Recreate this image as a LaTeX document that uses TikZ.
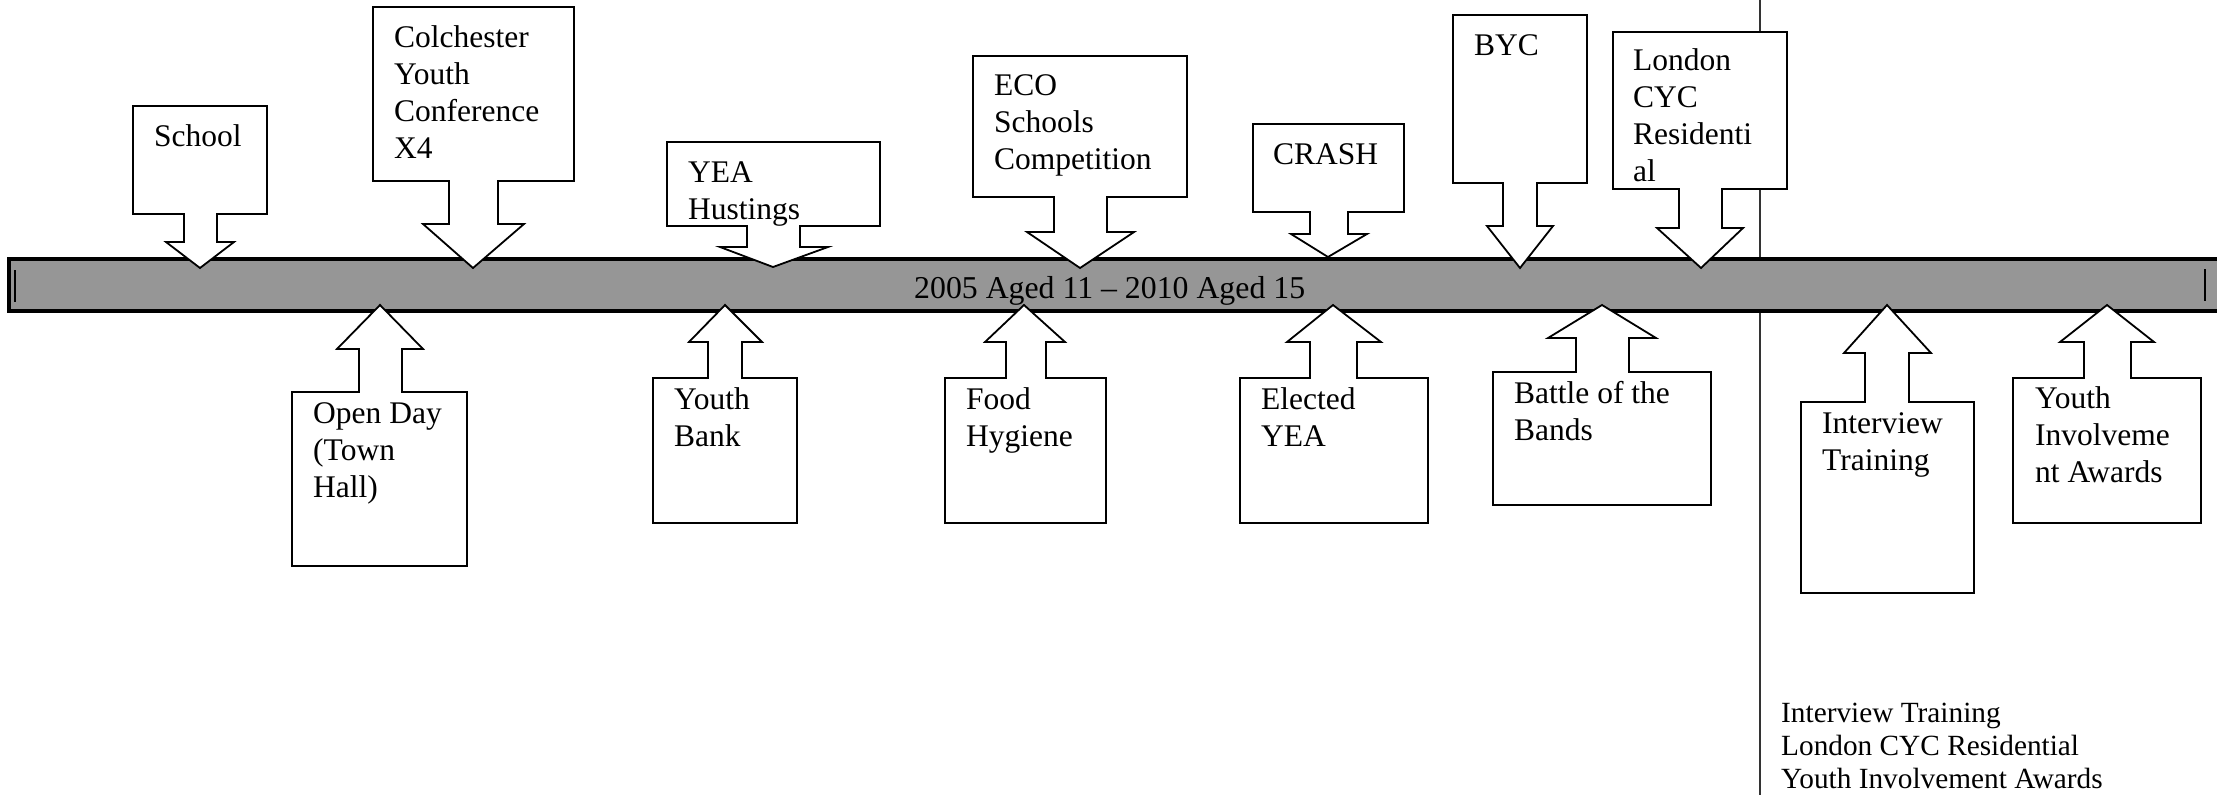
\documentclass[tikz,border=0pt]{standalone}
\usepackage{fontspec}
\setmainfont{Liberation Serif}
\definecolor{barfill}{RGB}{150,150,150}
\tikzset{
  callout/.style={draw=black, fill=white, line width=1.8pt, line join=miter},
  lbl/.style={anchor=north west, inner sep=0pt, align=left, font=\fontsize{31.5}{37}\selectfont},
  notes/.style={anchor=north west, inner sep=0pt, align=left, font=\fontsize{29.3}{33}\selectfont},
  bartext/.style={anchor=base west, inner sep=0pt, font=\fontsize{31.8}{37}\selectfont},
  divider/.style={draw=black!80, line width=1.5pt},
  tick/.style={draw=black, line width=1.5pt}
}
\begin{document}
\begin{tikzpicture}[x=1pt,y=-1pt]
\useasboundingbox (0,0) rectangle (2217,795);
\clip (0,0) rectangle (2217,795);
% divider line
\coordinate (dtop) at (1760,0);
\coordinate (dbot) at (1760,795);
\draw[divider] (dtop) -- (dbot);
% timeline bar
\draw[fill=barfill, line width=4pt] (9,259) rectangle (2240,311);
\coordinate (lt1) at (15,270); \coordinate (lt2) at (15,302);
\coordinate (rt1) at (2205,269); \coordinate (rt2) at (2205,301);
\draw[tick] (lt1) -- (lt2);
\draw[tick] (rt1) -- (rt2);
\node[bartext] (bar) at (914,298) {2005 Aged 11 – 2010 Aged 15};
% down callouts
\draw[callout] (133,106) -- (267,106) -- (267,214) -- (217,214) -- (217,242) -- (234,242) -- (200,268) -- (166,242) -- (184,242) -- (184,214) -- (133,214) -- cycle;
\draw[callout] (373,7) -- (574,7) -- (574,181) -- (498,181) -- (498,224) -- (524,224) -- (473,268) -- (423,224) -- (449,224) -- (449,181) -- (373,181) -- cycle;
\draw[callout] (667,142) -- (880,142) -- (880,226) -- (800,226) -- (800,247) -- (828,247) -- (773,267) -- (720,247) -- (747,247) -- (747,226) -- (667,226) -- cycle;
\draw[callout] (973,56) -- (1187,56) -- (1187,197) -- (1107,197) -- (1107,232) -- (1134,232) -- (1080,268) -- (1027,232) -- (1054,232) -- (1054,197) -- (973,197) -- cycle;
\draw[callout] (1253,124) -- (1404,124) -- (1404,212) -- (1348,212) -- (1348,234) -- (1367,234) -- (1328,257) -- (1291,234) -- (1310,234) -- (1310,212) -- (1253,212) -- cycle;
\draw[callout] (1453,15) -- (1587,15) -- (1587,183) -- (1537,183) -- (1537,226) -- (1553,226) -- (1520,268) -- (1487,226) -- (1503,226) -- (1503,183) -- (1453,183) -- cycle;
\draw[callout] (1613,32) -- (1787,32) -- (1787,189) -- (1722,189) -- (1722,228) -- (1743,228) -- (1701,268) -- (1657,228) -- (1679,228) -- (1679,189) -- (1613,189) -- cycle;
% up callouts
\draw[callout] (292,392) -- (359,392) -- (359,349) -- (337,349) -- (380,305) -- (423,349) -- (402,349) -- (402,392) -- (467,392) -- (467,566) -- (292,566) -- cycle;
\draw[callout] (653,378) -- (708,378) -- (708,342) -- (689,342) -- (725,305) -- (762,342) -- (742,342) -- (742,378) -- (797,378) -- (797,523) -- (653,523) -- cycle;
\draw[callout] (945,378) -- (1006,378) -- (1006,342) -- (985,342) -- (1024,305) -- (1065,342) -- (1046,342) -- (1046,378) -- (1106,378) -- (1106,523) -- (945,523) -- cycle;
\draw[callout] (1240,378) -- (1310,378) -- (1310,342) -- (1287,342) -- (1333,305) -- (1381,342) -- (1357,342) -- (1357,378) -- (1428,378) -- (1428,523) -- (1240,523) -- cycle;
\draw[callout] (1493,372) -- (1576,372) -- (1576,338) -- (1548,338) -- (1602,305) -- (1656,338) -- (1629,338) -- (1629,372) -- (1711,372) -- (1711,505) -- (1493,505) -- cycle;
\draw[callout] (1801,402) -- (1865,402) -- (1865,353) -- (1844,353) -- (1887,305) -- (1931,353) -- (1909,353) -- (1909,402) -- (1974,402) -- (1974,593) -- (1801,593) -- cycle;
\draw[callout] (2013,378) -- (2084,378) -- (2084,342) -- (2060,342) -- (2107,305) -- (2154,342) -- (2131,342) -- (2131,378) -- (2201,378) -- (2201,523) -- (2013,523) -- cycle;
% labels
\node[lbl] (school) at (154,120.1) {\strut School};
\node[lbl] (colch) at (394,21.1) {\strut Colchester\\Youth\\Conference\\X4};
\node[lbl] (yea) at (688,156.1) {\strut YEA\\Hustings};
\node[lbl] (eco) at (994,69.1) {\strut ECO\\Schools\\Competition};
\node[lbl] (crash) at (1273,138.1) {\strut CRASH};
\node[lbl] (byc) at (1474,29.1) {\strut BYC};
\node[lbl] (london) at (1633,44.1) {\strut London\\CYC\\Residenti\\al};
\node[lbl] (openday) at (313,397.1) {\strut Open Day\\(Town\\Hall)};
\node[lbl] (ybank) at (674,383.1) {\strut Youth\\Bank};
\node[lbl] (food) at (966,383.1) {\strut Food\\Hygiene};
\node[lbl] (elected) at (1261,383.1) {\strut Elected\\YEA};
\node[lbl] (battle) at (1514,377.1) {\strut Battle of the\\Bands};
\node[lbl] (interview) at (1822,407.1) {\strut Interview\\Training};
\node[lbl] (yia) at (2035,382.1) {\strut Youth\\Involveme\\nt Awards};
\node[notes] (summary) at (1781,698.9) {\strut Interview Training\\London CYC Residential\\Youth Involvement Awards};
\end{tikzpicture}
\end{document}
